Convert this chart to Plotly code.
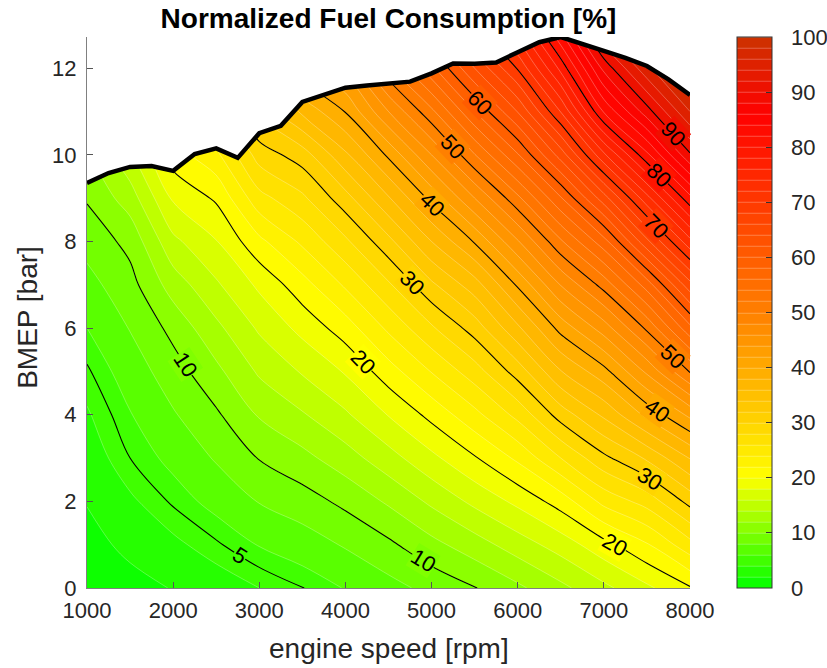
import numpy as np
import plotly.graph_objects as go

# ---------------- data ----------------
rpm = [1000, 1500, 2000, 2500, 3000, 3500, 4000, 4500, 5000, 5500, 6000, 6500, 7000, 7500, 8000]
bmep = [0, 1, 2, 3, 4, 5, 6, 7, 8, 9, 10, 11, 12, 13]

# normalized fuel consumption [%] per engine-speed column, BMEP 0..13 bar
fuel_1000 = [0.5, 1.3, 2.1, 3.0, 3.8, 4.8, 6.0, 7.3, 8.7, 10.2, 11.8, 13.5, 15.0, 16.5]
fuel_1500 = [1.3, 2.5, 3.7, 5.0, 5.9, 6.9, 8.1, 9.3, 10.6, 13.0, 15.6, 18.0, 20.0, 22.0]
fuel_2000 = [2.1, 3.6, 5.2, 6.5, 7.8, 9.1, 10.6, 12.9, 15.5, 18.3, 21.0, 23.5, 26.0, 28.0]
fuel_2500 = [3.0, 4.8, 6.6, 8.2, 9.7, 11.5, 13.5, 15.7, 17.9, 20.3, 23.5, 27.0, 30.0, 33.0]
fuel_3000 = [4.0, 6.1, 8.1, 10.1, 12.2, 14.3, 16.3, 18.4, 21.5, 25.3, 28.9, 32.5, 36.0, 39.0]
fuel_3500 = [4.95, 7.0, 9.1, 11.4, 13.8, 16.2, 18.6, 21.2, 24.4, 27.6, 31.0, 36.4, 41.5, 46.0]
fuel_4000 = [6.1, 8.2, 10.5, 13.1, 15.7, 18.2, 21.0, 24.3, 27.6, 31.2, 35.6, 40.1, 44.5, 49.0]
fuel_4500 = [7.3, 9.6, 12.3, 15.2, 18.1, 21.1, 24.4, 27.7, 31.4, 35.8, 40.4, 46.0, 51.5, 57.0]
fuel_5000 = [8.6, 11.4, 14.4, 17.5, 20.6, 24.1, 27.7, 31.6, 36.0, 40.6, 46.0, 51.5, 57.5, 63.0]
fuel_5500 = [9.9, 13.1, 16.5, 19.8, 23.4, 27.1, 30.9, 35.1, 40.2, 46.0, 51.9, 58.0, 64.0, 70.0]
fuel_6000 = [11.6, 15.0, 18.5, 22.4, 26.6, 30.9, 35.6, 40.3, 45.8, 51.5, 57.8, 64.1, 70.2, 76.0]
fuel_6500 = [13.5, 16.9, 20.9, 26.0, 30.9, 35.9, 40.7, 46.1, 51.7, 57.8, 64.9, 72.1, 78.6, 85.0]
fuel_7000 = [15.5, 19.3, 24.6, 29.5, 34.4, 39.3, 45.0, 50.8, 57.2, 65.1, 73.6, 82.2, 88.6, 95.0]
fuel_7500 = [17.6, 21.8, 26.8, 32.3, 38.5, 44.4, 50.4, 56.9, 65.5, 73.3, 81.5, 89.1, 95.5, 100.0]
fuel_8000 = [19.8, 25.3, 30.7, 36.1, 42.5, 50.2, 57.4, 65.3, 73.4, 81.4, 89.7, 96.0, 100.0, 100.0]

# full-load (max BMEP) curve
boundary_rpm = [1000, 1250, 1500, 1750, 2000, 2250, 2500, 2750, 3000, 3250, 3500, 3750, 4000, 4250,
                4500, 4750, 5000, 5250, 5500, 5750, 6000, 6250, 6500, 6750, 7000, 7250, 7500, 7750, 8000]
boundary_bmep = [9.35, 9.58, 9.72, 9.74, 9.63, 10.02, 10.15, 9.93, 10.50, 10.67, 11.22, 11.38, 11.55, 11.60,
                 11.64, 11.69, 11.88, 12.11, 12.10, 12.13, 12.37, 12.60, 12.72, 12.55, 12.40, 12.24, 12.05, 11.74, 11.38]

line_levels = [5, 10, 20, 30, 40, 50, 60, 70, 80, 90]
# contour labels: which level, and the engine speed along the line where it is written
label_levels = [5, 10, 10, 20, 20, 30, 30, 40, 40, 50, 50, 60, 70, 80, 90]
label_rpm = [2775, 2140, 4900, 4200, 7125, 4770, 7530, 5010, 7620, 5245, 7800, 5560, 7610, 7645, 7800]

cbar_ticks = [0, 10, 20, 30, 40, 50, 60, 70, 80, 90, 100]
x_ticks = [1000, 2000, 3000, 4000, 5000, 6000, 7000, 8000]
y_ticks = [0, 2, 4, 6, 8, 10, 12]

# ---------------- helpers ----------------
z = np.array([fuel_1000, fuel_1500, fuel_2000, fuel_2500, fuel_3000, fuel_3500, fuel_4000, fuel_4500,
              fuel_5000, fuel_5500, fuel_6000, fuel_6500, fuel_7000, fuel_7500, fuel_8000]).T

cscale = [[0.0, '#00ff00'], [0.2, '#ffff00'], [0.5, '#ff8000'], [0.86, '#ff0000'], [1.0, '#cc3300']]
FONT = 'Liberation Sans, Arial, Helvetica, sans-serif'

W, H = 827, 668
M = dict(l=87, r=137, t=37, b=80)
YMAX = 12.72
PW = W - M['l'] - M['r']
px_per_rpm = PW / (rpm[-1] - rpm[0])
px_per_bar = (H - M['t'] - M['b']) / YMAX


def hex_to_rgb(h):
    return [int(h[i:i + 2], 16) for i in (1, 3, 5)]


def color_at(v):
    t = v / 100.0
    for (t0, c0), (t1, c1) in zip(cscale[:-1], cscale[1:]):
        if t0 <= t <= t1:
            f = (t - t0) / (t1 - t0)
            a, b = hex_to_rgb(c0), hex_to_rgb(c1)
            return 'rgb(%d,%d,%d)' % tuple(round(a[k] + f * (b[k] - a[k])) for k in range(3))
    return cscale[-1][1]


def level_path(level):
    """Crossings of a level on the grid lines (same points the contour algorithm uses)."""
    pts = []
    for j, r in enumerate(rpm):
        col = z[:, j]
        for i in range(len(bmep) - 1):
            a, c = col[i], col[i + 1]
            if a != c and min(a, c) <= level <= max(a, c):
                pts.append((r, bmep[i] + (level - a) / (c - a) * (bmep[i + 1] - bmep[i])))
    for i, b in enumerate(bmep):
        row = z[i, :]
        for j in range(len(rpm) - 1):
            a, c = row[j], row[j + 1]
            if a != c and min(a, c) <= level <= max(a, c):
                pts.append((rpm[j] + (level - a) / (c - a) * (rpm[j + 1] - rpm[j]), b))
    pts.sort()
    return np.array(pts)


# ---------------- figure ----------------
fig = go.Figure()

fig.add_trace(go.Contour(
    x=rpm, y=bmep, z=z,
    colorscale=cscale, zmin=0, zmax=100,
    autocontour=False,
    contours=dict(start=0, end=100, size=2, coloring='fill'),
    line=dict(color='rgba(255,255,255,0.55)', width=0.5, smoothing=1),
    colorbar=dict(
        x=(737 - M['l']) / PW, xanchor='left', xref='paper', y=0.5, yanchor='middle',
        len=1.0, lenmode='fraction',
        thickness=35, xpad=0, ypad=0, outlinewidth=1, outlinecolor='#333333',
        tickvals=cbar_ticks, ticks='inside', ticklen=6, tickcolor='#333333',
        showticklabels=False,
    ),
    hoverinfo='skip',
))

for lv in line_levels:
    fig.add_trace(go.Contour(
        x=rpm, y=bmep, z=z,
        autocontour=False,
        contours=dict(start=lv, end=lv, size=10, coloring='none', showlabels=False),
        line=dict(color='black', width=1.1, smoothing=1),
        showscale=False, hoverinfo='skip',
    ))

# white mask above the full-load curve
fig.add_trace(go.Scatter(
    x=boundary_rpm + [8000, 1000], y=boundary_bmep + [14, 14],
    fill='toself', fillcolor='white', line=dict(width=0), mode='lines',
    hoverinfo='skip', showlegend=False,
))
# full-load curve
fig.add_trace(go.Scatter(
    x=boundary_rpm, y=boundary_bmep, mode='lines',
    line=dict(color='black', width=4.5), hoverinfo='skip', showlegend=False,
))

# contour labels written along the lines
annotations = []
for lv, r in zip(label_levels, label_rpm):
    p = level_path(lv)
    b = float(np.interp(r, p[:, 0], p[:, 1]))
    b1 = float(np.interp(r - 200, p[:, 0], p[:, 1]))
    b2 = float(np.interp(r + 200, p[:, 0], p[:, 1]))
    ang = np.degrees(np.arctan2((b1 - b2) * px_per_bar, 400 * px_per_rpm))
    annotations.append(dict(
        x=r, y=b, xref='x', yref='y', text=str(lv), showarrow=False, textangle=float(ang),
        xanchor='center', yanchor='middle', bgcolor=color_at(lv), borderpad=0,
        font=dict(family=FONT, size=22, color='black'),
    ))

# colour-bar tick labels (bar spans the full plot height, so value/100 is its paper y)
for v in cbar_ticks:
    annotations.append(dict(
        text=str(v), xref='paper', yref='paper', x=(789 - M['l']) / PW, y=v / 100.0,
        xanchor='left', yanchor='middle', showarrow=False,
        font=dict(family=FONT, size=22, color='#262626'),
    ))

annotations += [
    dict(text='engine speed [rpm]', xref='paper', yref='paper', x=0.5, y=-0.109,
         xanchor='center', yanchor='middle', showarrow=False,
         font=dict(family=FONT, size=28, color='#262626')),
    dict(text='BMEP [bar]', xref='paper', yref='paper', x=-0.098, y=0.492, textangle=-90,
         xanchor='center', yanchor='middle', showarrow=False,
         font=dict(family=FONT, size=28, color='#262626')),
]

axis_common = dict(
    showgrid=False, zeroline=False, showline=True, linecolor='#808080', linewidth=1,
    ticks='inside', ticklen=6, tickcolor='#555555', mirror=False,
    tickfont=dict(family=FONT, size=22, color='#262626'),
)
fig.update_xaxes(range=[rpm[0], rpm[-1]], tickvals=x_ticks, ticklabelstandoff=3, **axis_common)
fig.update_yaxes(range=[0, YMAX], tickvals=y_ticks, ticklabelstandoff=5, **axis_common)

fig.update_layout(
    width=W, height=H,
    margin=dict(M, autoexpand=False),
    paper_bgcolor='white', plot_bgcolor='white',
    showlegend=False,
    title=dict(text='<b>Normalized Fuel Consumption [%]</b>', x=0.5, xref='paper',
               y=1 - 18 / H, yref='container', yanchor='middle', xanchor='center',
               font=dict(family=FONT, size=28, color='black')),
    annotations=annotations,
)

fig.write_html('out.html', config={'displayModeBar': False},
               post_script="document.body.style.margin='0px';")
